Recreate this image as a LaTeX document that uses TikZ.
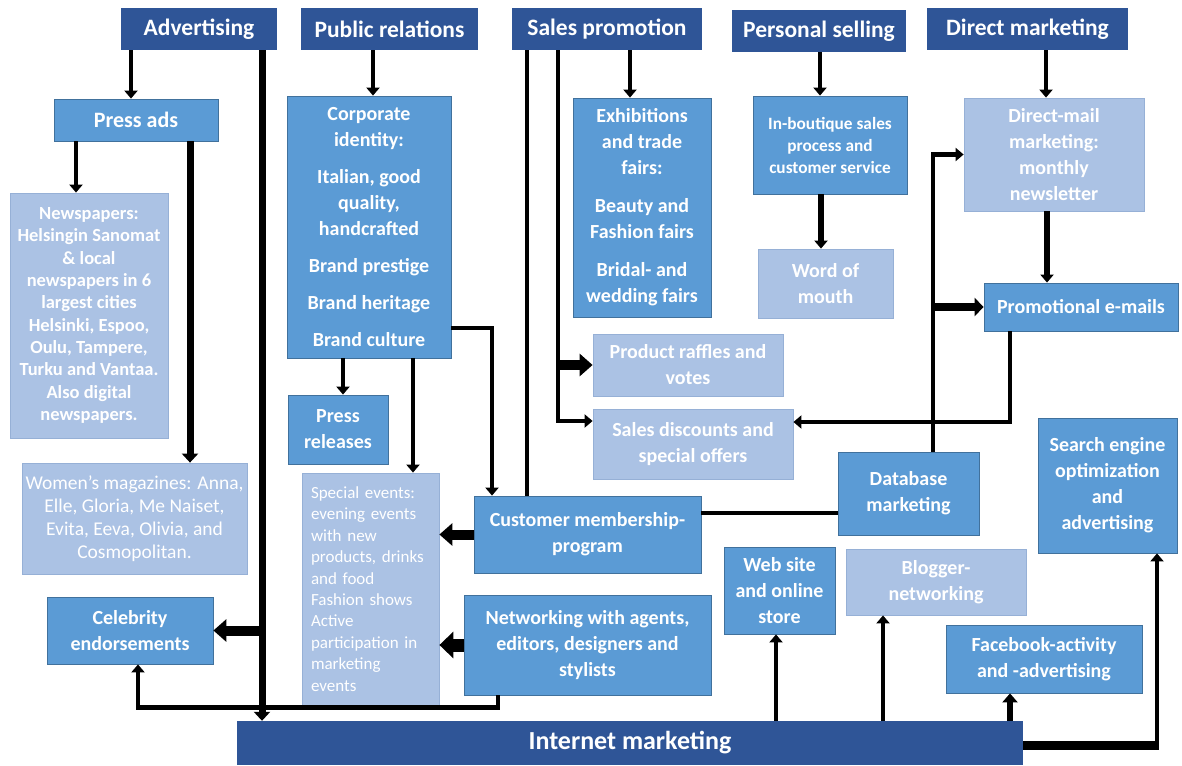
\documentclass[tikz,border=0pt]{standalone}
\usepackage{fontspec}
\setmainfont{Carlito}
\usepackage{tikz}
\usetikzlibrary{arrows.meta,positioning,calc}
\definecolor{hdrblue}{RGB}{47,85,151}
\definecolor{midblue}{RGB}{91,155,213}
\definecolor{midline}{RGB}{65,113,156}
\definecolor{lightblue}{RGB}{171,194,228}
\definecolor{lightline}{RGB}{150,176,214}
\newcommand{\hdrfont}{\fontsize{23.5}{27}\selectfont\bfseries}
\newcommand{\boxfont}{\fontsize{20}{26}\selectfont\bfseries}
\newcommand{\smallfont}{\fontsize{17.3}{22}\selectfont\bfseries}
\newcommand{\plainfont}{\fontsize{17}{21.4}\selectfont}

\begin{document}
\begin{tikzpicture}[x=1pt, y=-1pt,
    hdr/.style={fill=hdrblue, text=white, font=\hdrfont, inner sep=0pt},
    midbox/.style={fill=midblue, draw=midline, line width=0.8pt, text=white, font=\boxfont, align=center, inner sep=0pt},
    lightbox/.style={fill=lightblue, draw=lightline, line width=0.8pt, text=white, font=\boxfont, align=center, inner sep=0pt},
    conn/.style={line width=4.5pt, -{Triangle[length=8pt,width=13pt]}},
    fatconn/.style={line width=10pt, -{Triangle[length=13pt,width=22pt]}},
    bar/.style={line width=4.5pt}]
    \useasboundingbox[fill=white] (0,0) rectangle (1182,765);

    % the five headings
    \node[hdr, minimum width=156pt, minimum height=42pt] (adv) at (199,29) {Advertising};
    \node[hdr, minimum width=177pt, minimum height=42pt] (pr) at (389.5,29) {Public relations};
    \node[hdr, minimum width=190pt, minimum height=42pt] (sp) at (607,29) {Sales promotion};
    \node[hdr, minimum width=174pt, minimum height=42pt] (ps) at (819,31) {Personal selling};
    \node[hdr, minimum width=201pt, minimum height=42pt] (dm) at (1027.5,29) {Direct marketing};
    \node[hdr, minimum width=786pt, minimum height=44pt, font=\fontsize{26}{30}\selectfont\bfseries] (im) at (630,743) {Internet marketing};

    % advertising
    \node[midbox, minimum width=164pt, minimum height=42pt, font=\fontsize{22}{26}\selectfont\bfseries] (press) at (136,120) {Press ads};
    \node[lightbox, minimum width=158pt, minimum height=245pt, font=\fontsize{18.5}{22.3}\selectfont\bfseries] (news) at (89,315.5)
        {Newspapers:\\Helsingin Sanomat\\\& local\\newspapers in 6\\largest cities\\Helsinki, Espoo,\\Oulu, Tampere,\\Turku and Vantaa.\\Also digital\\newspapers.};
    \node[lightbox, minimum width=225pt, minimum height=111pt, font=\fontsize{19.5}{23}\selectfont] (women) at (134.5,518.5)
        {Women’s magazines: Anna,\\Elle, Gloria, Me Naiset,\\Evita, Eeva, Olivia, and\\Cosmopolitan.};
    \node[midbox, minimum width=166pt, minimum height=67pt] (celeb) at (130,630.5) {Celebrity\\endorsements};

    % public relations
    \node[midbox, minimum width=164pt, minimum height=262pt] (corp) at (369,227)
        {Corporate\\identity:\\[11pt]Italian, good\\quality,\\handcrafted\\[11pt]Brand prestige\\[11pt]Brand heritage\\[11pt]Brand culture};
    \node[midbox, minimum width=100pt, minimum height=69pt] (pressrel) at (338,429.5) {Press\\releases};
    \node[lightbox, minimum height=232pt, text width=119pt, inner xsep=9pt, align=left, font=\plainfont] (special) at (370.5,589)
        {Special events:\\evening events\\with new\\products, drinks\\and food\\Fashion shows\\Active\\participation in\\marketing\\events};

    % sales promotion
    \node[midbox, minimum width=138pt, minimum height=219pt] (exh) at (642,207.5)
        {Exhibitions\\and trade\\fairs:\\[12pt]Beauty and\\Fashion fairs\\[12pt]Bridal- and\\wedding fairs};
    \node[lightbox, minimum width=190pt, minimum height=62pt] (raffles) at (688,365) {Product raffles and\\votes};
    \node[lightbox, minimum width=200pt, minimum height=70pt] (discounts) at (693,444) {Sales discounts and\\special offers};
    \node[midbox, minimum width=227pt, minimum height=77pt] (cust) at (587.5,534.5) {Customer membership-\\program};
    \node[midbox, minimum width=247pt, minimum height=100pt] (net) at (587.5,645) {Networking with agents,\\editors, designers and\\stylists};

    % personal selling and direct marketing
    \node[midbox, minimum width=154pt, minimum height=98pt, font=\smallfont] (boutique) at (830,145) {In-boutique sales\\process and\\customer service};
    \node[lightbox, minimum width=135pt, minimum height=69pt] (wom) at (825.5,283.5) {Word of\\mouth};
    \node[lightbox, minimum width=180pt, minimum height=113pt] (directmail) at (1054,154.5) {Direct-mail\\marketing:\\monthly\\newsletter};
    \node[midbox, minimum width=194pt, minimum height=48pt] (promo) at (1081,307) {Promotional e-mails};
    \node[midbox, minimum width=141pt, minimum height=83pt] (db) at (908.5,493.5) {Database\\marketing};

    % internet marketing
    \node[midbox, minimum width=139pt, minimum height=135pt] (seo) at (1107.5,485.5) {Search engine\\optimization\\and\\advertising};
    \node[midbox, minimum width=111pt, minimum height=87pt] (web) at (779.5,590.5) {Web site\\and online\\store};
    \node[lightbox, minimum width=180pt, minimum height=66pt] (blogger) at (936,582) {Blogger-\\networking};
    \node[midbox, minimum width=196pt, minimum height=68pt] (fb) at (1044,659) {Facebook-activity\\and -advertising};

    % connectors
    \draw[conn] (adv.south -| 131,0) -- (press.north -| 131,0);
    \draw[conn, line width=7pt, -{Triangle[length=9pt,width=16pt]}] (adv.south -| 262,0) -- (im.north -| 262,0);
    \draw[fatconn] (celeb.east -| 262,0) -- (celeb.east);
    \draw[conn] (press.south -| 76,0) -- (news.north -| 76,0);
    \draw[conn, line width=7pt, -{Triangle[length=9pt,width=16pt]}] (press.south -| 190,0) -- (women.north -| 190,0);
    \draw[conn] (net.south -| 498,0) -- ++(0,12) -| (celeb.south -| 138,0);

    \draw[conn] (pr.south -| 373,0) -- (corp.north -| 373,0);
    \draw[conn] (corp.south -| 343,0) -- (pressrel.north -| 343,0);
    \draw[conn] (corp.south -| 413,0) -- (special.north -| 413,0);
    \draw[conn] (corp.east |- 0,328) -| (cust.north -| 492,0);

    \draw[conn] (sp.south -| 630,0) -- (exh.north -| 630,0);
    \draw[bar] (sp.south -| 527,0) -- (cust.north -| 527,0);
    \draw[conn] (sp.south -| 558,0) |- (discounts.west |- 0,421);
    \draw[fatconn] (raffles.west -| 556,0) -- (raffles.west);
    \draw[fatconn] (cust.west) -- (special.east |- cust.west);
    \draw[fatconn, line width=13pt, -{Triangle[length=14pt,width=26pt]}] (net.west) -- (special.east |- net.west);
    \draw[bar] (cust.east |- 0,513) -- (db.west |- 0,513);

    \draw[conn] (ps.south -| 820,0) -- (boutique.north -| 820,0);
    \draw[conn, line width=6pt] (boutique.south -| 821,0) -- (wom.north -| 821,0);
    \draw[conn] (dm.south -| 1046,0) -- (directmail.north -| 1046,0);
    \draw[conn, line width=6pt] (directmail.south -| 1047,0) -- (promo.north -| 1047,0);
    \draw[conn] (db.north -| 933,0) |- (directmail.west);
    \draw[fatconn, line width=8pt, -{Triangle[length=9pt,width=18pt]}] (promo.west -| 931,0) -- (promo.west);
    \draw[conn] (promo.south -| 1010,0) |- (discounts.east |- 0,422);

    \draw[conn] (im.north -| 776,0) -- (web.south -| 776,0);
    \draw[conn] (im.north -| 883,0) -- (blogger.south -| 883,0);
    \draw[conn, line width=6pt, -{Triangle[length=9pt,width=15pt]}] (im.north -| 1010,0) -- (fb.south -| 1010,0);
    \coordinate (seocorner) at (1157,745);
    \draw[bar, line width=9pt] (im.east |- seocorner) -- ([xshift=2pt]seocorner);
    \draw[conn, line width=4pt] ([yshift=4pt]seocorner) -- (seo.south -| seocorner);
\end{tikzpicture}
\end{document}
